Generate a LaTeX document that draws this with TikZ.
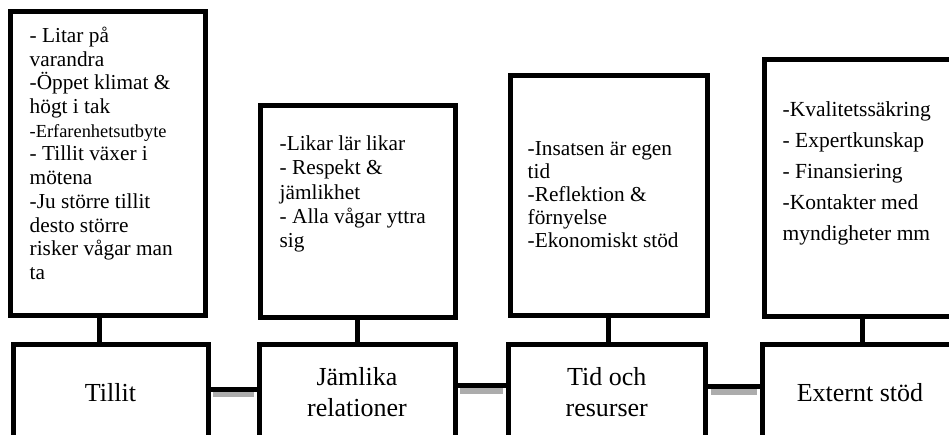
\documentclass[tikz,border=0pt]{standalone}
\usepackage{fontspec}
\setmainfont{Liberation Serif}
\usetikzlibrary{calc}
\begin{document}
\begin{tikzpicture}[x=1pt,y=-1pt,
  box/.style={draw=black, line width=5pt, rectangle, inner sep=0pt},
  basebox/.style={box, align=center, font=\fontsize{26}{31}\selectfont},
  txt/.style={anchor=base west, inner sep=0pt},
  conn/.style={line width=5pt, draw=black},
  shadowline/.style={line width=6pt, draw=gray!65, shorten <=2.5pt, shorten >=2.5pt}]
\useasboundingbox (0,0) rectangle (949,435);
\clip (0,0) rectangle (949,435);

% top boxes
\node[box, minimum width=195pt, minimum height=303.5pt] (t1) at (107.5,163.25) {};
\node[box, minimum width=195.5pt, minimum height=211.5pt] (t2) at (357.75,211.75) {};
\node[box, minimum width=197.5pt, minimum height=240pt] (t3) at (608.75,195.5) {};
\node[box, minimum width=195.5pt, minimum height=256pt] (t4) at (862.25,188) {};

% bottom boxes
\node[basebox, minimum width=195pt, minimum height=95.5pt] (b1) at (110.5,392.25) {Tillit};
\node[basebox, minimum width=196pt, minimum height=95.5pt] (b2) at (357,392.25) {Jämlika\\relationer};
\node[basebox, minimum width=197.5pt, minimum height=95.5pt] (b3) at (606.75,392.25) {Tid och\\resurser};
\node[basebox, minimum width=196pt, minimum height=95.5pt] (b4) at (860,392.25) {Externt stöd};

% texts
\node[txt, font=\fontsize{21.3}{23.7}\selectfont] (x1) at ($(t1.north west)+(22,33.5)$)
  {\vtop{\hbox{- Litar på}\hbox{varandra}\hbox{-Öppet klimat \&}\hbox{högt i tak}%
  \hbox{\fontsize{18.4}{23.7}\selectfont -Erfarenhetsutbyte}\hbox{- Tillit växer i}\hbox{mötena}%
  \hbox{-Ju större tillit}\hbox{desto större}\hbox{risker vågar man}\hbox{ta}}};
\node[txt, font=\fontsize{21.3}{24.3}\selectfont] (x2) at ($(t2.north west)+(22,47)$)
  {\vtop{\hbox{-Likar lär likar}\hbox{- Respekt \&}\hbox{jämlikhet}\hbox{- Alla vågar yttra}\hbox{sig}}};
\node[txt, font=\fontsize{21.3}{23}\selectfont] (x3) at ($(t3.north west)+(20,82.5)$)
  {\vtop{\hbox{-Insatsen är egen}\hbox{tid}\hbox{-Reflektion \&}\hbox{förnyelse}\hbox{-Ekonomiskt stöd}}};
\node[txt, font=\fontsize{21.5}{31}\selectfont] (x4) at ($(t4.north west)+(20.5,59)$)
  {\vtop{\hbox{-Kvalitetssäkring}\hbox{- Expertkunskap}\hbox{- Finansiering}\hbox{-Kontakter med}\hbox{myndigheter mm}}};

% vertical connectors
\draw[conn] ([xshift=-8.5pt]t1.south) -- ([xshift=-11.5pt]b1.north);
\draw[conn] (t2.south) -- (t2.south |- b2.north);
\draw[conn] ([xshift=-0.75pt]t3.south) -- ([xshift=-0.75pt]t3.south |- b3.north);
\draw[conn] ([xshift=-0.25pt]t4.south) -- ([xshift=-0.25pt]t4.south |- b4.north);

% horizontal connectors with shadow
\draw[shadowline] ([yshift=-2pt]b1.east) -- ([yshift=-2pt]b2.west);
\draw[conn] ([yshift=3.25pt]b1.east) -- ([yshift=3.25pt]b2.west);
\draw[shadowline] ([yshift=1.5pt]b2.east) -- ([yshift=1.5pt]b3.west);
\draw[conn] ([yshift=6.75pt]b2.east) -- ([yshift=6.75pt]b3.west);
\draw[shadowline] ([yshift=0.5pt]b3.east) -- ([yshift=0.5pt]b4.west);
\draw[conn] ([yshift=5.75pt]b3.east) -- ([yshift=5.75pt]b4.west);
\end{tikzpicture}
\end{document}
